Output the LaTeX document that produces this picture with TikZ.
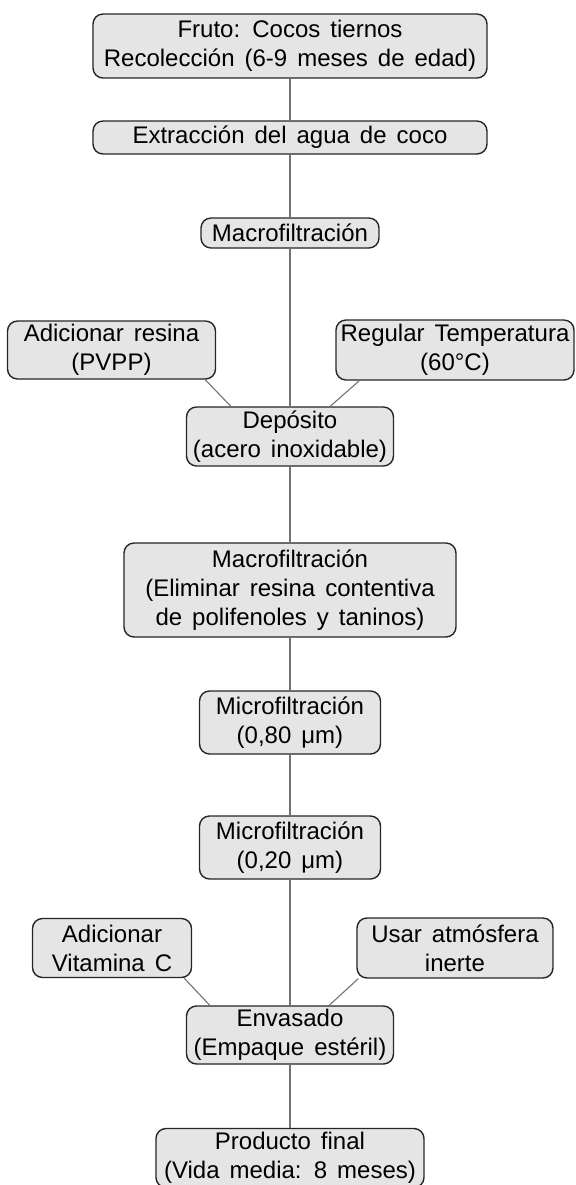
\documentclass[tikz,border=0pt]{standalone}
\usepackage{fontspec}
\setmainfont{Liberation Sans}[WordSpace=1.5]
\begin{document}
\begin{tikzpicture}[
  caja/.style={draw=black!85, line width=0.7pt, fill=black!10, rounded corners=5pt,
    align=center, inner sep=1pt, font=\fontsize{12}{14.5}\selectfont},
  tam/.style 2 args={minimum width=#1, minimum height=#2},
  enlace/.style={draw=black!55, line width=0.55pt}
]
\matrix [column sep={82.5pt,between origins}, row sep={0pt,between origins}] {
   & \node (fruto) [caja, tam={197pt}{32pt}] {Fruto: Cocos tiernos\\Recolección (6-9 meses de edad)}; & \\[45.75pt,between origins]
   & \node (extraccion) [caja, tam={197pt}{16.5pt}] {Extracción del agua de coco}; & \\[47.75pt,between origins]
   & \node (macro_1) [caja, tam={89pt}{15pt}] {Macrofiltración}; & \\[58.5pt,between origins]

   \node (resina) [caja, tam={104pt}{29pt}, xshift=-6.75pt] {Adicionar resina\\(PVPP)}; & &
   \node (temperatura) [caja, tam={119pt}{30pt}] {Regular Temperatura\\(60°C)}; \\[43.25pt,between origins]

   & \node (deposito) [caja, tam={103.5pt}{29.5pt}] {Depósito\\(acero inoxidable)}; & \\[76.75pt,between origins]
   & \node (macro_2) [caja, tam={166pt}{47pt}] {Macrofiltración\\(Eliminar resina contentiva\\de polifenoles y taninos)}; & \\[66.25pt,between origins]
   & \node (micro_1) [caja, tam={90.5pt}{31.5pt}] {Microfiltración\\(0,80 μm)}; & \\[62.5pt,between origins]
   & \node (micro_2) [caja, tam={90.5pt}{31.5pt}] {Microfiltración\\(0,20 μm)}; & \\[50.25pt,between origins]

   \node (vitamina) [caja, tam={79.5pt}{29.5pt}, xshift=-6.5pt] {Adicionar\\Vitamina C}; & &
   \node (atmosfera) [caja, tam={98pt}{30pt}] {Usar atmósfera\\inerte}; \\[43.5pt,between origins]

   & \node (envasado) [caja, tam={103.5pt}{29pt}] {Envasado\\(Empaque estéril)}; & \\[61.5pt,between origins]
   & \node (producto) [caja, tam={134pt}{29.5pt}] {Producto final\\(Vida media: 8 meses)}; & \\
};

\draw [enlace] (fruto) -- (extraccion);
\draw [enlace] (extraccion) -- (macro_1);
\draw [enlace] (macro_1) -- (deposito);
\draw [enlace] (deposito) -- (macro_2);
\draw [enlace] (macro_2) -- (micro_1);
\draw [enlace] (micro_1) -- (micro_2);
\draw [enlace] (micro_2) -- (envasado);
\draw [enlace] (envasado) -- (producto);

\draw [enlace] ([xshift=-5.5pt]resina.south east) -- ([xshift=22.5pt]deposito.north west);
\draw [enlace] ([xshift=12pt]temperatura.south west) -- ([xshift=-32pt]deposito.north east);
\draw [enlace] ([xshift=-4pt]vitamina.south east) -- ([xshift=12pt]envasado.north west);
\draw [enlace] ([xshift=1pt]atmosfera.south west) -- ([xshift=-32.5pt]envasado.north east);

\pgfresetboundingbox
\useasboundingbox ([shift={(-145pt,23pt)}]fruto.center) rectangle ++(287.5pt,-592.5pt);
\end{tikzpicture}
\end{document}
